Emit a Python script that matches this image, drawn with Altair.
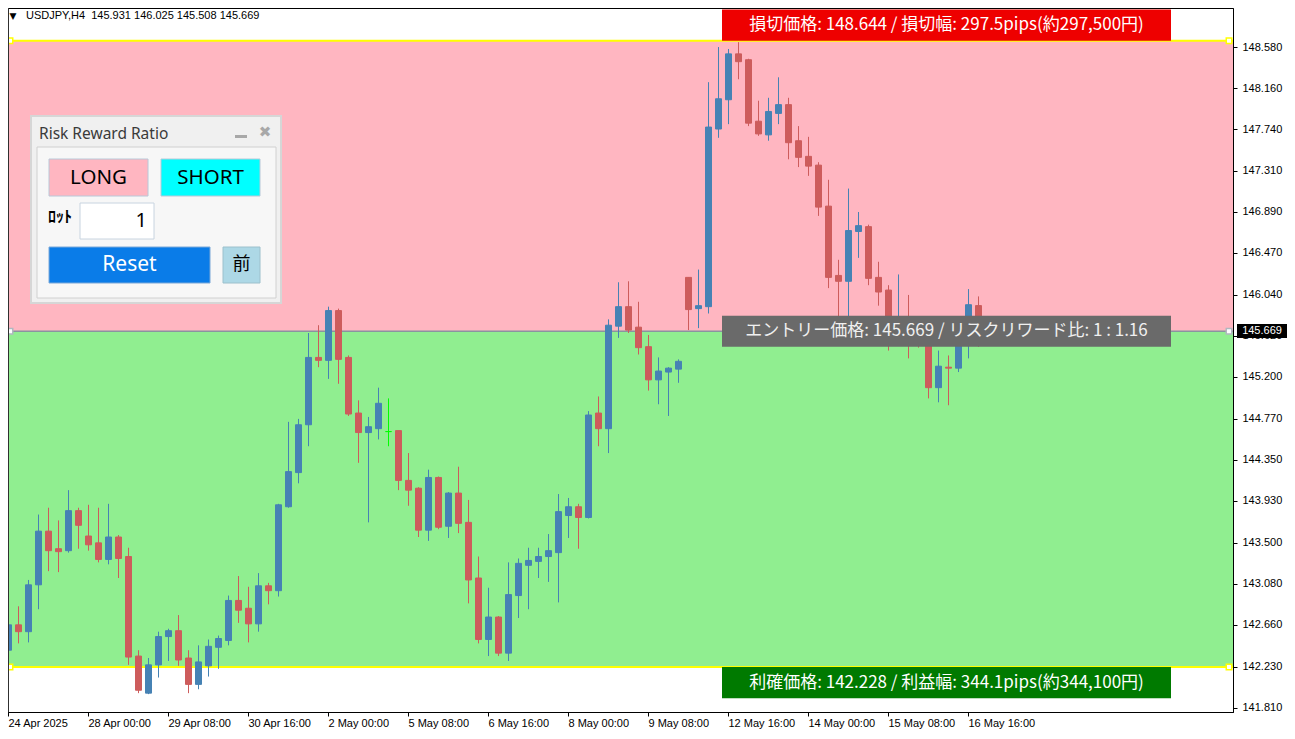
import altair as alt
import pandas as pd

# ---------------- data (USDJPY H4 candles) ----------------
opens = [142.40, 142.66, 142.59, 143.07, 143.62, 143.44, 143.42, 143.83, 143.57, 143.50,
         143.33, 143.56, 143.36, 142.34, 141.96, 142.25, 142.54, 142.60, 142.32, 142.05,
         142.24, 142.43, 142.50, 142.91, 142.83, 142.67, 143.06, 143.01, 143.87, 144.22,
         144.71, 145.40, 145.37, 145.88, 145.40, 144.83, 144.63, 144.67, 144.64, 144.65,
         144.14, 144.06, 143.63, 144.17, 143.67, 144.01, 143.71, 143.14, 142.51, 142.74,
         142.37, 142.96, 143.27, 143.31, 143.36, 143.40, 143.78, 143.87, 143.76, 144.83,
         144.67, 145.72, 145.92, 145.71, 145.51, 145.17, 145.25, 145.28, 146.22, 145.90,
         145.92, 147.74, 148.04, 148.51, 148.45, 147.82, 147.68, 147.90, 147.99, 147.62,
         147.46, 147.37, 146.95, 146.24, 146.18, 146.69, 146.74, 146.22, 146.09, 145.62,
         145.80, 145.70, 145.62, 145.09, 145.30, 145.29, 145.60, 145.931]
highs = [142.79, 142.85, 143.12, 143.79, 143.86, 143.73, 144.04, 143.86, 143.89, 143.86,
         143.90, 143.58, 143.45, 142.40, 142.32, 142.59, 142.62, 142.76, 142.40, 142.45,
         142.51, 142.55, 142.96, 143.16, 143.05, 143.19, 143.09, 143.90, 144.74, 144.77,
         145.65, 145.73, 145.92, 145.90, 145.42, 144.96, 144.79, 145.09, 144.98, 144.65,
         144.42, 144.07, 144.25, 144.18, 144.02, 144.28, 143.94, 143.36, 143.04, 142.75,
         143.30, 143.34, 143.45, 143.45, 143.59, 144.00, 143.96, 143.90, 144.85, 145.00,
         145.79, 146.17, 146.18, 145.97, 145.63, 145.40, 145.30, 145.38, 146.22, 146.30,
         148.22, 148.58, 148.56, 148.63, 148.46, 148.03, 148.06, 148.27, 148.06, 147.77,
         147.66, 147.40, 147.22, 146.40, 147.13, 146.89, 146.76, 146.38, 146.14, 146.25,
         146.04, 145.74, 145.66, 145.47, 145.42, 145.70, 146.10, 146.025]
lows = [142.38, 142.47, 142.48, 142.82, 143.21, 143.20, 143.40, 143.44, 143.42, 143.30,
        143.28, 143.14, 142.25, 141.96, 141.95, 142.12, 142.29, 142.24, 141.96, 142.00,
        142.13, 142.21, 142.45, 142.68, 142.48, 142.59, 142.87, 142.95, 143.86, 144.11,
        144.49, 145.30, 145.18, 145.13, 144.80, 144.32, 143.71, 144.56, 144.49, 144.04,
        143.88, 143.56, 143.52, 143.64, 143.55, 143.60, 142.88, 142.47, 142.34, 142.34,
        142.29, 142.73, 142.82, 143.14, 143.10, 142.89, 143.55, 143.44, 143.75, 144.49,
        144.42, 145.60, 145.65, 145.43, 145.06, 144.92, 144.80, 145.14, 145.68, 145.70,
        145.85, 147.65, 147.79, 148.25, 147.77, 147.67, 147.62, 147.79, 147.43, 147.35,
        147.26, 146.85, 146.11, 145.78, 145.70, 146.42, 146.14, 145.93, 145.47, 145.52,
        145.39, 145.50, 144.98, 144.94, 144.91, 145.25, 145.39, 145.508]
closes = [142.66, 142.59, 143.07, 143.62, 143.42, 143.41, 143.83, 143.68, 143.48, 143.33,
          143.56, 143.34, 142.33, 141.99, 142.25, 142.54, 142.60, 142.30, 142.05, 142.28,
          142.44, 142.52, 142.91, 142.81, 142.67, 143.06, 143.01, 143.89, 144.23, 144.71,
          145.40, 145.37, 145.88, 145.38, 144.82, 144.63, 144.69, 144.93, 144.64, 144.14,
          144.04, 143.63, 144.17, 143.66, 144.01, 143.70, 143.12, 142.51, 142.74, 142.37,
          142.97, 143.29, 143.32, 143.36, 143.42, 143.82, 143.87, 143.76, 144.81, 144.67,
          145.73, 145.92, 145.68, 145.50, 145.17, 145.26, 145.29, 145.36, 145.89, 145.93,
          147.76, 148.05, 148.51, 148.43, 147.80, 147.69, 147.92, 147.99, 147.60, 147.45,
          147.36, 146.94, 146.22, 146.18, 146.70, 146.75, 146.21, 146.07, 145.72, 145.74,
          145.62, 145.62, 145.09, 145.31, 145.29, 145.60, 145.94, 145.669]

x_tick_idx = [0, 8, 16, 24, 32, 40, 48, 56, 64, 72, 80, 88, 96]
x_tick_labels = ["24 Apr 2025", "28 Apr 00:00", "29 Apr 08:00", "30 Apr 16:00",
                 "2 May 00:00", "5 May 08:00", "6 May 16:00", "8 May 00:00",
                 "9 May 08:00", "12 May 16:00", "14 May 00:00", "15 May 08:00",
                 "16 May 16:00"]
y_ticks = [148.58, 148.16, 147.74, 147.31, 146.89, 146.47, 146.04, 145.62, 145.20,
           144.77, 144.35, 143.93, 143.50, 143.08, 142.66, 142.23, 141.81]

sl_price = 148.644
entry_price = 145.669
tp_price = 142.228

header_text = "USDJPY,H4\u00a0\u00a0145.931 146.025 145.508 145.669"
sl_text = "損切価格: 148.644 / 損切幅: 297.5pips(約297,500円)"
entry_text = "エントリー価格: 145.669 / リスクリワード比: 1 : 1.16"
tp_text = "利確価格: 142.228 / 利益幅: 344.1pips(約344,100円)"

# ---------------- layout ----------------
W, H = 1225, 704
X_DOMAIN = [0, 122.5]
Y_DOMAIN = [141.767, 148.980]
CJK = "Noto Sans CJK JP"
LAT = "Liberation Sans"

xs = alt.Scale(domain=X_DOMAIN, nice=False, zero=False)
ys = alt.Scale(domain=Y_DOMAIN, nice=False, zero=False)

label_list = "[" + ",".join("'" + s + "'" for s in x_tick_labels) + "]"
idx_list = "[" + ",".join(str(v) for v in x_tick_idx) + "]"
x_label_expr = label_list + "[indexof(" + idx_list + ", datum.value)]"

XAX = alt.Axis(values=x_tick_idx, labelExpr=x_label_expr, labelAlign="left",
               labelBaseline="top", tickSize=4, labelPadding=1, labelFlush=False,
               labelOverlap=False, grid=False, title=None, labelFont=LAT,
               labelFontSize=11, labelColor="black", tickColor="black",
               domainColor="black", labelBound=False)
YAX = alt.Axis(orient="right", values=y_ticks, format=".3f", tickSize=4, labelPadding=5,
               grid=False, title=None, labelFont=LAT, labelFontSize=11,
               labelColor="black", tickColor="black", domainColor="black",
               labelOverlap=False, labelBound=False)


def X(field):
    return alt.X(field, scale=xs, axis=XAX)


def Y(field):
    return alt.Y(field, scale=ys, axis=YAX)


dirs = ["up" if c > o else ("down" if c < o else "doji") for o, c in zip(opens, closes)]
candles = pd.DataFrame({"k": list(range(len(opens))), "open": opens, "high": highs,
                        "low": lows, "close": closes, "dir": dirs})
cscale = alt.Scale(domain=["up", "down", "doji"], range=["#4682B4", "#CD5C5C", "#00FF00"])

dummy = alt.Data(values=[{"d": 0}])

# zones
zones = alt.Chart(pd.DataFrame({"top": [sl_price, entry_price],
                                "bottom": [entry_price, tp_price],
                                "fill": ["#FFB6C1", "#90EE90"]})).mark_rect().encode(
    x=alt.value(0), x2=alt.value(W),
    y=Y("top:Q"), y2="bottom:Q",
    fill=alt.Fill("fill:N", scale=None))

levels = alt.Chart(pd.DataFrame({"price": [sl_price, tp_price]})).mark_rule(
    color="#FFFF00", strokeWidth=2).encode(
    x=alt.value(0), x2=alt.value(W), y=Y("price:Q"))

entry_line = alt.Chart(pd.DataFrame({"price": [entry_price]})).mark_rule(
    color="#8A94A0", strokeWidth=1.5).encode(
    x=alt.value(0), x2=alt.value(W), y=Y("price:Q"))

# candles
wicks = alt.Chart(candles).mark_rule(strokeWidth=1, xOffset=0.5).encode(
    x=X("k:Q"), y=Y("low:Q"), y2="high:Q",
    color=alt.Color("dir:N", scale=cscale, legend=None))

bodies = alt.Chart(candles).transform_calculate(
    x0="datum.k - 0.25", x1="datum.k + 0.35").mark_rect(strokeWidth=1).encode(
    x=X("x0:Q"), x2="x1:Q",
    y=Y("open:Q"), y2="close:Q",
    fill=alt.Fill("dir:N", scale=cscale, legend=None),
    stroke=alt.Stroke("dir:N", scale=cscale, legend=None))

# handles on the level lines
handles = alt.Chart(pd.DataFrame({
    "k": [0.2, 122.1, 0.2, 122.1, 0.2, 122.1],
    "price": [sl_price, sl_price, entry_price, entry_price, tp_price, tp_price],
    "st": ["#FFFF00", "#FFFF00", "#B0B8C0", "#B0B8C0", "#FFFF00", "#FFFF00"]})
).mark_square(size=30, fill="white", strokeWidth=1.5, opacity=1).encode(
    x=X("k:Q"), y=Y("price:Q"),
    stroke=alt.Stroke("st:N", scale=None))

# label boxes
box_df = pd.DataFrame({
    "x0": [71.4, 71.4, 71.4], "x1": [116.3, 116.3, 116.3],
    "top": [sl_price + 0.32, entry_price + 0.157, tp_price],
    "bottom": [sl_price, entry_price - 0.161, tp_price - 0.32],
    "fill": ["#EE0000", "#6A6A6A", "#007A00"],
    "txt": [sl_text, entry_text, tp_text],
    "tc": ["#FFFFFF", "#F0F0F0", "#FFFFFF"]})
boxes = alt.Chart(box_df).mark_rect().encode(
    x=X("x0:Q"), x2="x1:Q",
    y=Y("top:Q"), y2="bottom:Q",
    fill=alt.Fill("fill:N", scale=None))
box_texts = alt.Chart(box_df).transform_calculate(
    xm="(datum.x0 + datum.x1) / 2", ym="(datum.top + datum.bottom) / 2"
).mark_text(font=CJK, fontSize=17, align="center", baseline="middle").encode(
    x=X("xm:Q"), y=Y("ym:Q"),
    text="txt:N", fill=alt.Fill("tc:N", scale=None))


def rect_px(x0, y0, x1, y1, fill, stroke=None, sw=1):
    kw = {"fill": fill}
    if stroke:
        kw["stroke"] = stroke
        kw["strokeWidth"] = sw
    return alt.Chart(dummy).mark_rect(**kw).encode(
        x=alt.value(x0 - 8), x2=alt.value(x1 - 8), y=alt.value(y0 - 8), y2=alt.value(y1 - 8))


def text_px(x, y, txt, size, color="black", align="center", font="Noto Sans", weight="normal"):
    return alt.Chart(dummy).mark_text(
        text=txt, fontSize=size, color=color, align=align, baseline="middle",
        font=font, fontWeight=weight).encode(x=alt.value(x - 8), y=alt.value(y - 8))


panel = [
    rect_px(31, 116, 281, 303, "#F0F0F0", "#D6D6D6", 2),
    rect_px(37, 147, 276, 298, "#F7F7F7", "#D0D0D0", 1),
    rect_px(49, 159, 148, 196, "#FFB6C1", "#B8C8D8", 1),
    rect_px(161, 159, 260, 196, "#00FFFF", "#B8C8D8", 1),
    rect_px(80, 203, 154, 239, "#FFFFFF", "#C8D4E0", 1),
    rect_px(49, 247, 210, 283, "#0A7CE8", "#7AA8D8", 1),
    rect_px(223, 247, 260, 283, "#ADD8E6", "#9CC0CC", 1),
    rect_px(235, 135, 247, 138, "#A8A8A8"),
    text_px(39, 134, "Risk Reward Ratio", 15.5, "#3A3A3A", align="left"),
    text_px(265, 132, "✖", 15, "#A8A8A8", font="DejaVu Sans"),
    text_px(98.5, 177.5, "LONG", 20.5),
    text_px(210.5, 177.5, "SHORT", 20.5),
    text_px(48, 217, "ﾛｯﾄ", 16, align="left", font=CJK, weight="bold"),
    text_px(147, 221, "1", 20, align="right"),
    text_px(129.5, 265, "Reset", 21, "white"),
    text_px(241.5, 265, "前", 18, font=CJK),
]

header = [
    text_px(13, 16, "▼", 9, font="DejaVu Sans"),
    text_px(26, 16, header_text, 11, align="left", font=LAT),
]

tag = [
    rect_px(1237, 324, 1287, 338, "#000000"),
    text_px(1262, 331, "145.669", 11, "white", font=LAT),
]

left_border = alt.Chart(dummy).mark_rule(color="#303030", strokeWidth=1).encode(
    x=alt.value(0.5), y=alt.value(0), y2=alt.value(H))

chart = alt.layer(
    zones, levels, entry_line, handles, wicks, bodies, boxes, box_texts,
    *panel, *header, *tag, left_border
).properties(
    width=W, height=H,
    padding={"left": 0, "top": 0, "right": 54, "bottom": 22},
    autosize=alt.AutoSizeParams(type="none"),
    background="white",
).configure_view(stroke="black", strokeWidth=1)

chart.save("out.html", embed_options={"renderer": "svg", "actions": False})
